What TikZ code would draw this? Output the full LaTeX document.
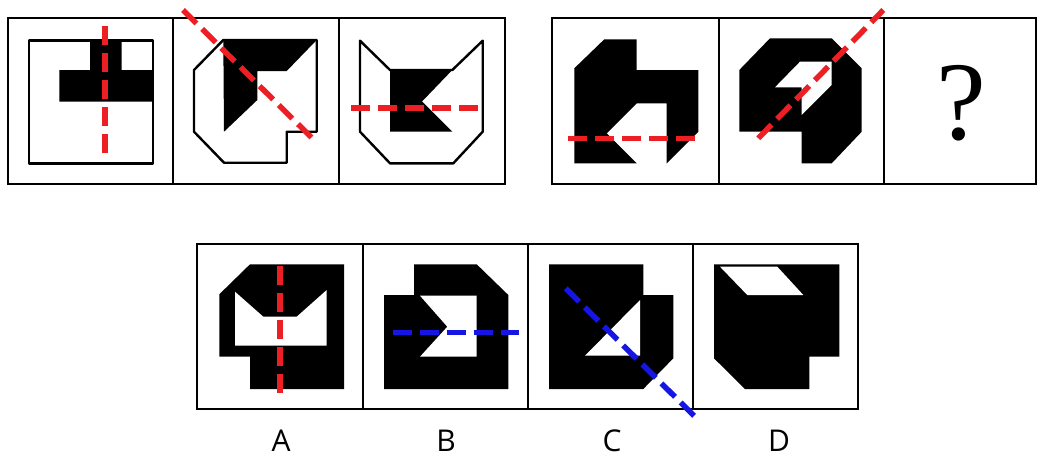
\documentclass[tikz,border=0pt]{standalone}
\usepackage{fontspec}
\newfontfamily\labelfont{Open Sans}
\newfontfamily\qfont{Liberation Serif}
\definecolor{myred}{RGB}{236,32,36}
\definecolor{myblue}{RGB}{22,22,228}
\begin{document}
\begin{tikzpicture}[x=1pt,y=-1pt,
  frame/.style={draw=black,line width=2.4pt},
  blk/.style={fill=black,line join=round},
  wht/.style={fill=white},
  outl/.style={draw=black,line width=2.4pt,line join=round},
  reddash/.style={draw=myred,line width=5.5pt,dash pattern=on 19pt off 8pt},
  bluedash/.style={draw=myblue,line width=5.5pt,dash pattern=on 19pt off 8pt},
  lbl/.style={font=\labelfont\fontsize{30}{30}\selectfont,inner sep=0pt}]
\useasboundingbox[fill=white] (0,0) rectangle (1044,459);

% frames
\draw[frame] (8,18) rectangle (505,184);
\draw[frame] (173,18) -- (173,184);
\draw[frame] (339,18) -- (339,184);
\draw[frame] (552,18) rectangle (1036,184);
\draw[frame] (719,18) -- (719,184);
\draw[frame] (884,18) -- (884,184);
\draw[frame] (197,244) rectangle (858,409);
\draw[frame] (363,244) -- (363,409);
\draw[frame] (528,244) -- (528,409);
\draw[frame] (693,244) -- (693,409);

% panel 1
\draw[outl] (29,40.5) rectangle (153,163.5);
\fill[blk] (90,39.5) -- (121.7,39.5) -- (121.7,70) -- (153,70) -- (153,101.7) -- (59.3,101.7) -- (59.3,70) -- (90,70) -- cycle;

% panel 2
\draw[outl] (223.3,40) -- (194,70) -- (194,131.7) -- (224,162.7) -- (286.7,162.7) -- (286.7,131.7) -- (316.7,131.7) -- (316.7,40) -- cycle;
\fill[blk] (223.3,40) -- (316.7,40) -- (286.7,71) -- (257.3,71) -- (257.3,100) -- (224,131.7) -- cycle;

% panel 3
\draw[outl] (360,40.7) -- (360,131.7) -- (390,163.3) -- (453.3,163.3) -- (482.7,131.7) -- (482.7,40.7) -- (452.3,70) -- (390,70) -- cycle;
\fill[blk] (390,70) -- (452.3,70) -- (422,101.5) -- (452.3,131.7) -- (390,131.7) -- cycle;

% panel 4
\fill[blk] (604.3,39.3) -- (636.7,39.3) -- (636.7,70) -- (698.3,70) -- (698.3,131.7) -- (666.7,163.3) -- (666.7,103.3) -- (636.7,103.3) -- (606.7,133.3) -- (636.7,163.3) -- (574.3,163.3) -- (574.3,68.3) -- cycle;

% panel 5
\fill[blk] (770,38.3) -- (831.7,38.3) -- (861.7,68.3) -- (861.7,131.7) -- (831.7,163.3) -- (801.7,163.3) -- (801.7,131.7) -- (739.3,131.7) -- (739.3,70) -- cycle;
\fill[wht] (800,61.7) -- (831.7,61.7) -- (831.7,85) -- (801.7,115) -- (801.7,87.3) -- (775,87.3) -- cycle;

% question mark
\node[inner sep=0pt,font=\qfont\fontsize{112}{112}\selectfont] (q) at (961,103) {?};

% panel A
\fill[blk] (250,264.3) -- (344,264.3) -- (344,389) -- (250,389) -- (250,356.7) -- (219.3,356.7) -- (219.3,294.3) -- cycle;
\fill[wht] (235,291.7) -- (263.3,316.7) -- (296.7,316.7) -- (326.7,290) -- (326.7,345.7) -- (235,345.7) -- cycle;

% panel B
\fill[blk] (414,264.3) -- (476.7,264.3) -- (508.3,295) -- (508.3,389) -- (384,389) -- (384,295) -- (414,295) -- cycle;
\fill[wht] (420,295.7) -- (476.7,295.7) -- (476.7,356.7) -- (420,356.7) -- (447.3,326.7) -- cycle;

% panel C
\fill[blk] (549,264.3) -- (643.3,264.3) -- (643.3,295) -- (673.3,295) -- (673.3,358.3) -- (643.3,389) -- (549,389) -- cycle;
\fill[wht] (640,300) -- (640,355.7) -- (585,355.7) -- cycle;

% panel D
\fill[blk] (714,264.3) -- (839.3,264.3) -- (839.3,356.7) -- (809.3,356.7) -- (809.3,389) -- (745,389) -- (714,358.3) -- cycle;
\fill[wht] (720,266.7) -- (777.3,266.7) -- (803.3,295) -- (747.3,295) -- cycle;

% dashed axes
\draw[reddash] (105,26) -- (105,153);
\draw[reddash] (183,10) -- (313,139);
\draw[reddash] (351,108) -- (478,108);
\draw[reddash] (568,138.3) -- (697,138.3);
\draw[reddash] (758.3,138.3) -- (883.3,10);
\draw[reddash] (280,265.7) -- (280,393.3);
\draw[bluedash] (392.7,332.7) -- (519.3,332.7);
\draw[bluedash] (565.7,288.3) -- (695,416.7);

% labels
\node[lbl] (la) at (281,441) {A};
\node[lbl] (lb) at (446,441) {B};
\node[lbl] (lc) at (612,441) {C};
\node[lbl] (ld) at (779,441) {D};
\end{tikzpicture}
\end{document}
